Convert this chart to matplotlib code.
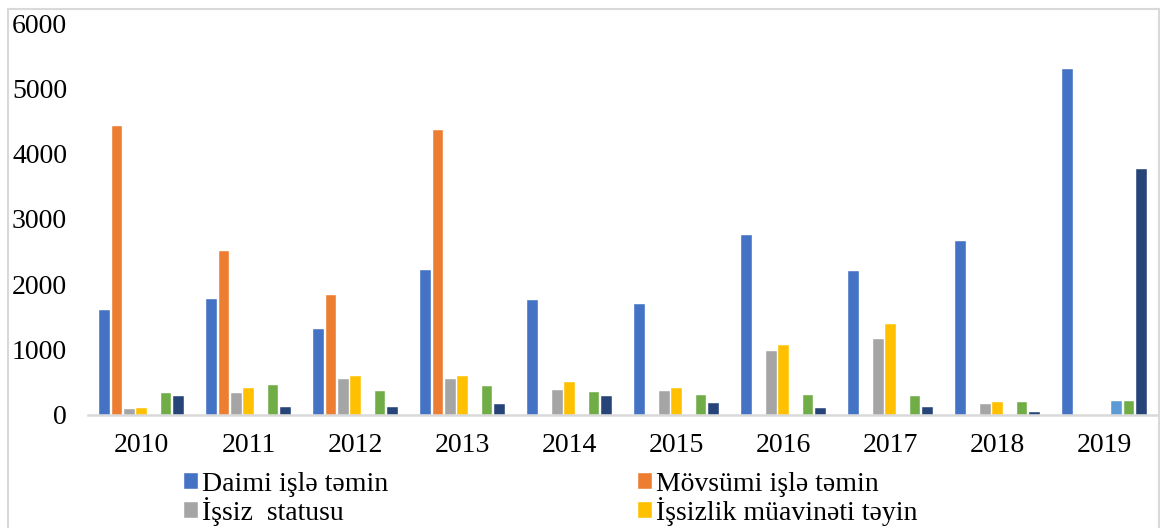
import matplotlib
matplotlib.use("Agg")
import matplotlib.pyplot as plt
import numpy as np
from matplotlib.lines import Line2D

years = ["2010", "2011", "2012", "2013", "2014", "2015", "2016", "2017", "2018", "2019"]
series_names = ["Daimi işlə təmin", "Mövsümi işlə təmin", "İşsiz  statusu",
                "İşsizlik müavinəti təyin", "Seriya 5", "Seriya 6", "Seriya 7"]
daimi = [1600, 1770, 1310, 2220, 1760, 1700, 2760, 2210, 2660, 5300]
movsumi = [4430, 2510, 1840, 4360, 0, 0, 0, 0, 0, 0]
issiz_status = [90, 335, 550, 550, 385, 370, 985, 1170, 165, 0]
muavinet = [110, 415, 590, 600, 500, 415, 1070, 1395, 205, 0]
seriya5 = [0, 0, 0, 0, 0, 0, 0, 0, 0, 215]
seriya6 = [340, 455, 370, 445, 355, 300, 305, 290, 200, 220]
seriya7 = [295, 125, 125, 170, 295, 190, 100, 120, 45, 3760]
yticks = [0, 1000, 2000, 3000, 4000, 5000, 6000]

data = [daimi, movsumi, issiz_status, muavinet, seriya5, seriya6, seriya7]
colors = ["#4472C4", "#ED7D31", "#A5A5A5", "#FFC000", "#5B9BD5", "#70AD47", "#264478"]

plt.rcParams['font.family'] = ['Liberation Serif', 'DejaVu Serif']

W, H = 1160, 528
fig = plt.figure(figsize=(W / 100, H / 100), dpi=100)
ax = fig.add_axes([88 / W, (H - 415) / H, (1158 - 88) / W, 392 / H])

x = np.arange(len(years))
pitch = 0.1144
bw = 0.099
bars = []
for i, (vals, c) in enumerate(zip(data, colors)):
    b = ax.bar(x + (i - 3) * pitch, vals, width=bw, color=c, edgecolor='white',
               linewidth=0.3, zorder=2)
    bars.append(b)

ax.set_xlim(-0.5, len(years) - 0.5)
ax.set_ylim(0, 6000)
ax.set_yticks(yticks)
ax.set_yticklabels([str(v) for v in yticks])
ax.set_xticks(x)
ax.set_xticklabels(years)
ax.tick_params(axis='y', length=0, pad=15, labelsize=20)
ax.tick_params(axis='x', length=0, pad=13, labelsize=20)
for s in ['left', 'right', 'top']:
    ax.spines[s].set_visible(False)
ax.spines['bottom'].set_color('#D9D9D9')
ax.spines['bottom'].set_linewidth(1.8)

# chart border
fig.add_artist(Line2D([8 / W, 8 / W], [0, 1 - 9 / H], transform=fig.transFigure,
                      color='#D9D9D9', linewidth=1.5))
fig.add_artist(Line2D([8 / W, 1159 / W], [1 - 9 / H, 1 - 9 / H], transform=fig.transFigure,
                      color='#D9D9D9', linewidth=1.5))
fig.add_artist(Line2D([1159 / W, 1159 / W], [0, 1 - 9 / H], transform=fig.transFigure,
                      color='#D9D9D9', linewidth=1.5))

handles = [bars[0], bars[1], bars[2], bars[3]]
labels = [series_names[0], series_names[1], series_names[2], series_names[3]]
leg = fig.legend([handles[0], handles[2], handles[1], handles[3]],
                 [labels[0], labels[2], labels[1], labels[3]],
                 ncol=2, loc='upper left', bbox_to_anchor=(184 / W, 1 - 472 / H),
                 frameon=False, fontsize=20, handlelength=0.5, handleheight=0.5,
                 handletextpad=0.15, labelspacing=0.0, columnspacing=9.0,
                 borderpad=0, borderaxespad=0)

fig.savefig("out.png", dpi=100)
